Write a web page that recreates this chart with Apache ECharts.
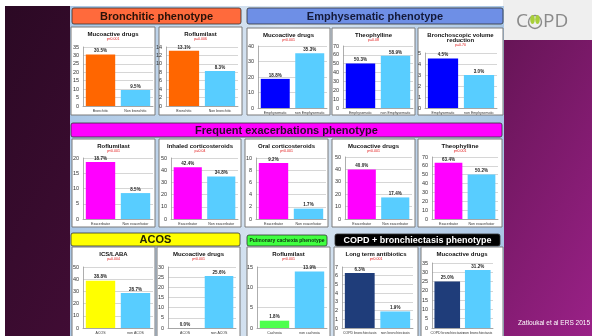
<!DOCTYPE html>
<html>
<head>
<meta charset="utf-8">
<style>
html, body { margin: 0; padding: 0; background: #fff; }
#chart { width: 592px; height: 336px; }
</style>
<script src="https://cdn.jsdelivr.net/npm/echarts@6/dist/echarts.min.js"></script>
</head>
<body>
<div id="chart"></div>
<script>
// categories
const bronchitisCats = ['Bronchitic', 'Non bronchitic']
const emphysemaCats = ['Emphysematic', 'non Emphysematic']
const exacerbatorCats = ['Exacerbator', 'Non exacerbator']
const acosCats = ['ACOS', 'non ACOS']
const cachexiaCats = ['Cachexia', 'non cachexia']
const bronchiectasisCats = ['COPD bronchiectasis', 'non bronchiectasis']

// values (% of patients)
const bronchMucoactive = [30.5, 9.5]
const bronchRoflumilast = [13.1, 8.3]
const emphMucoactive = [18.8, 35.3]
const emphTheophylline = [50.3, 58.9]
const emphBronchoscopic = [4.5, 3.0]
const exacRoflumilast = [18.7, 8.5]
const exacInhaledCS = [42.4, 34.8]
const exacOralCS = [9.2, 1.7]
const exacMucoactive = [40.0, 17.4]
const exacTheophylline = [63.4, 50.2]
const acosIcsLaba = [38.8, 28.7]
const acosMucoactive = [0.0, 25.6]
const cachexiaRoflumilast = [1.8, 13.9]
const bronchiectAntibiotics = [6.3, 1.9]
const bronchiectMucoactive = [25.0, 31.2]

const ORANGE = '#ff6600'
const LIGHT = '#58cdff'
const BLUE = '#0000ff'
const MAGENTA = '#ff00ff'
const YELLOW = '#ffff00'
const GREEN = '#4dff4d'
const NAVY = '#1f3d7a'
const FONT = 'Liberation Sans'

const charts = [
    { title: ['Mucoactive drugs'], p: 'p<0.001', cats: bronchitisCats, vals: bronchMucoactive, color: ORANGE, max: 35, interval: 5, box: [71, 27, 155, 115], grid: [83, 47, 153, 106] },
    { title: ['Roflumilast'], p: 'p=0.006', cats: bronchitisCats, vals: bronchRoflumilast, color: ORANGE, max: 14, interval: 2, box: [159, 27, 242, 115], grid: [166, 47, 238, 106] },
    { title: ['Mucoactive drugs'], p: 'p<0.001', cats: emphysemaCats, vals: emphMucoactive, color: BLUE, max: 40, interval: 10, box: [247, 28, 330, 115], grid: [258, 46, 327, 108] },
    { title: ['Theophylline'], p: 'p=0.08', cats: emphysemaCats, vals: emphTheophylline, color: BLUE, max: 70, interval: 10, box: [332, 28, 415, 115], grid: [343, 46, 413, 108] },
    { title: ['Bronchoscopic volume', 'reduction'], p: 'p=0.70', cats: emphysemaCats, vals: emphBronchoscopic, color: BLUE, max: 5, interval: 1, box: [418, 28, 503, 115], grid: [425, 53, 497, 108] },
    { title: ['Roflumilast'], p: 'p<0.001', cats: exacerbatorCats, vals: exacRoflumilast, color: MAGENTA, max: 20, interval: 5, box: [72, 139, 155, 227], grid: [83, 158, 153, 219] },
    { title: ['Inhaled corticosteroids'], p: 'p=0.04', cats: exacerbatorCats, vals: exacInhaledCS, color: MAGENTA, max: 50, interval: 10, box: [159, 139, 241, 227], grid: [171, 158, 238, 219] },
    { title: ['Oral corticosteroids'], p: 'p<0.001', cats: exacerbatorCats, vals: exacOralCS, color: MAGENTA, max: 10, interval: 2, box: [245, 139, 328, 227], grid: [256, 158, 326, 219] },
    { title: ['Mucoactive drugs'], p: 'p<0.001', cats: exacerbatorCats, vals: exacMucoactive, color: MAGENTA, max: 50, interval: 10, box: [332, 139, 415, 227], grid: [345, 157, 412, 219] },
    { title: ['Theophylline'], p: 'p<0.001', cats: exacerbatorCats, vals: exacTheophylline, color: MAGENTA, max: 70, interval: 10, box: [418, 139, 502, 227], grid: [432, 157, 498, 219] },
    { title: ['ICS/LABA'], p: 'p=0.004', cats: acosCats, vals: acosIcsLaba, color: YELLOW, max: 50, interval: 10, box: [72, 247, 155, 340], grid: [83, 267, 153, 328] },
    { title: ['Mucoactive drugs'], p: 'p<0.001', cats: acosCats, vals: acosMucoactive, color: YELLOW, max: 30, interval: 5, box: [157, 247, 240, 340], grid: [168, 267, 236, 328] },
    { title: ['Roflumilast'], p: 'p<0.001', cats: cachexiaCats, vals: cachexiaRoflumilast, color: GREEN, max: 15, interval: 5, box: [247, 247, 330, 340], grid: [257, 267, 327, 328] },
    { title: ['Long term antibiotics'], p: 'p<0.001', cats: bronchiectasisCats, vals: bronchiectAntibiotics, color: NAVY, max: 7, interval: 1, box: [334, 247, 418, 340], grid: [342, 267, 413, 328] },
    { title: ['Mucoactive drugs'], p: '', cats: bronchiectasisCats, vals: bronchiectMucoactive, color: NAVY, max: 35, interval: 5, box: [421, 247, 503, 340], grid: [432, 263, 493, 328] }
]

const headers = [
    { text: 'Bronchitic phenotype', rect: [72, 8, 241, 24], fill: '#ff6a3c', color: '#2a1208', size: 11 },
    { text: 'Emphysematic phenotype', rect: [247, 8, 503, 24], fill: '#6e8fe6', color: '#141a3a', size: 11 },
    { text: 'Frequent exacerbations phenotype', rect: [71, 123, 502, 137], fill: '#ff00ff', color: '#2a0a2a', size: 11 },
    { text: 'ACOS', rect: [71, 233, 240, 246], fill: '#ffff00', color: '#222200', size: 11 },
    { text: 'Pulmonary cachexia phenotype', rect: [247, 235, 327, 246], fill: '#40ff40', color: '#103010', size: 5 },
    { text: 'COPD + bronchiectasis phenotype', rect: [335, 234, 500, 246], fill: '#000000', color: '#ffffff', size: 9 }
]

const chart = echarts.init(document.getElementById('chart'))

const graphic = [
    { type: 'rect', z: -20, shape: { x: 0, y: 0, width: 592, height: 336 }, style: { fill: '#ffffff' } },
    {
        type: 'rect', z: -19, shape: { x: 5, y: 6, width: 587, height: 330 },
        style: {
            fill: new echarts.graphic.LinearGradient(0, 0, 1, 1, [
                { offset: 0, color: '#2b0924' },
                { offset: 0.5, color: '#4c0e3d' },
                { offset: 1, color: '#9a2187' }
            ])
        }
    },
    { type: 'rect', z: -18, shape: { x: 503, y: 0, width: 89, height: 40 }, style: { fill: '#efefef' } },
    {
        type: 'rect', z: -18, shape: { x: 70, y: 6, width: 434, height: 330 },
        style: {
            fill: new echarts.graphic.LinearGradient(0, 0, 1, 0, [
                { offset: 0, color: '#a9c6e5' },
                { offset: 0.5, color: '#dce7f2' },
                { offset: 1, color: '#a9c6e5' }
            ])
        }
    }
]

headers.forEach(h => {
    const [x0, y0, x1, y1] = h.rect
    graphic.push({
        type: 'rect', z: -10,
        shape: { x: x0, y: y0, width: x1 - x0, height: y1 - y0, r: 2 },
        style: { fill: h.fill, stroke: '#333', lineWidth: 0.8 }
    })
    graphic.push({
        type: 'text', z: 10, x: (x0 + x1) / 2, y: (y0 + y1) / 2 + 0.5,
        style: {
            text: h.text, fill: h.color, fontSize: h.size, fontWeight: 'bold', fontFamily: FONT,
            textAlign: 'center', textVerticalAlign: 'middle'
        }
    })
})

const grids = []
const xAxes = []
const yAxes = []
const series = []

charts.forEach((c, i) => {
    const [bx0, by0, bx1, by1] = c.box
    const [gx0, gy0, gx1, gy1] = c.grid
    graphic.push({
        type: 'rect', z: -10,
        shape: { x: bx0, y: by0, width: bx1 - bx0, height: by1 - by0 },
        style: { fill: '#ffffff', stroke: '#7a7a7a', lineWidth: 1 }
    })
    const cx = (bx0 + bx1) / 2
    c.title.forEach((t, k) => {
        graphic.push({
            type: 'text', z: 10, x: cx, y: by0 + 7 + k * 5,
            style: {
                text: t, fill: '#111', fontSize: 6, fontWeight: 'bold', fontFamily: FONT,
                textAlign: 'center', textVerticalAlign: 'middle'
            }
        })
    })
    if (c.p) {
        graphic.push({
            type: 'text', z: 10, x: cx, y: by0 + 7 + c.title.length * 5,
            style: {
                text: c.p, fill: '#e01010', fontSize: 3.5, fontFamily: FONT,
                textAlign: 'center', textVerticalAlign: 'middle'
            }
        })
    }

    grids.push({ left: gx0, top: gy0, width: gx1 - gx0, height: gy1 - gy0 })
    xAxes.push({
        type: 'category', gridIndex: i, data: c.cats,
        axisTick: { show: false },
        axisLine: { lineStyle: { color: '#999', width: 0.8 } },
        axisLabel: { fontSize: 3.5, color: '#333', margin: 3, interval: 0, fontFamily: FONT }
    })
    yAxes.push({
        type: 'value', gridIndex: i, min: 0, max: c.max, interval: c.interval,
        axisLine: { show: true, lineStyle: { color: '#999', width: 0.8 } },
        axisTick: { show: false },
        axisLabel: { fontSize: 5.5, color: '#333', margin: 4, fontFamily: FONT },
        splitLine: { lineStyle: { color: '#c4c4c4', width: 0.7 } }
    })
    series.push({
        type: 'bar', xAxisIndex: i, yAxisIndex: i,
        barWidth: '84%',
        data: c.vals.map((v, k) => ({ value: v, itemStyle: { color: k === 0 ? c.color : LIGHT } })),
        label: {
            show: true, position: 'top', distance: 1,
            fontSize: 4.5, fontWeight: 'bold', color: '#222', fontFamily: FONT,
            formatter: p => p.value.toFixed(1) + '%'
        }
    })
})

// COPD logo
graphic.push({
    type: 'text', z: 10, x: 516, y: 22,
    style: { text: 'C', fill: '#8a8a8a', fontSize: 19, fontFamily: 'Open Sans', textVerticalAlign: 'middle' }
})
graphic.push({
    type: 'circle', z: 10, shape: { cx: 535, cy: 22, r: 6.5 },
    style: { fill: 'none', stroke: '#8a8a8a', lineWidth: 1.4 }
})
graphic.push({
    type: 'ellipse', z: 11, shape: { cx: 532.5, cy: 19.5, rx: 2.3, ry: 4.5 },
    style: { fill: '#a8cf3a' }
})
graphic.push({
    type: 'ellipse', z: 11, shape: { cx: 537.5, cy: 19.5, rx: 2.3, ry: 4.5 },
    style: { fill: '#a8cf3a' }
})
graphic.push({
    type: 'text', z: 10, x: 543, y: 22,
    style: { text: 'PD', fill: '#8a8a8a', fontSize: 19, fontFamily: 'Open Sans', textVerticalAlign: 'middle' }
})
graphic.push({
    type: 'text', z: 10, x: 590, y: 323,
    style: { text: 'Zatloukal et al ERS 2015', fill: '#ffffff', fontSize: 6.5, fontFamily: FONT, textAlign: 'right', textVerticalAlign: 'middle' }
})

chart.setOption({
    animation: false,
    grid: grids,
    xAxis: xAxes,
    yAxis: yAxes,
    series: series,
    graphic: graphic
})
</script>
</body>
</html>
